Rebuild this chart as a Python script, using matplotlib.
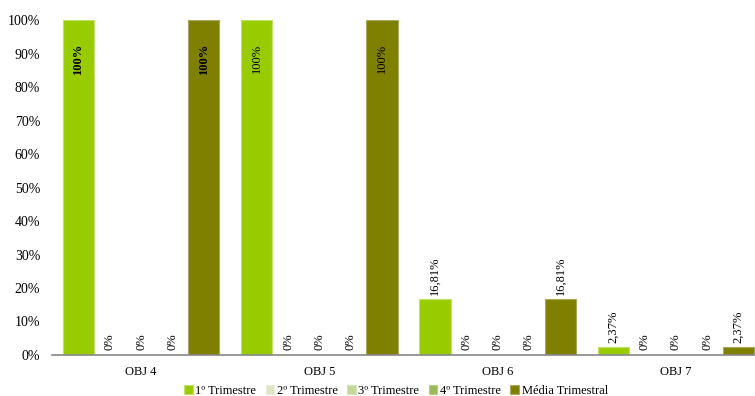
import numpy as np
import matplotlib.pyplot as plt

plt.rcParams['font.family'] = ['Liberation Serif', 'DejaVu Serif']

categories = ['OBJ 4', 'OBJ 5', 'OBJ 6', 'OBJ 7']
series_names = ['1º Trimestre', '2º Trimestre', '3º Trimestre', '4º Trimestre', 'Média Trimestral']
tri1 = [100, 100, 16.81, 2.37]
tri2 = [0, 0, 0, 0]
tri3 = [0, 0, 0, 0]
tri4 = [0, 0, 0, 0]
media = [100, 100, 16.81, 2.37]
series = [tri1, tri2, tri3, tri4, media]
colors = ['#99CC00', '#DDE6C6', '#C4D79B', '#9BBB59', '#808000']
edges = ['#C2E070', '#E8EEDA', '#D6E3BA', '#B8CF8A', '#A8A860']

fig = plt.figure(figsize=(7.55, 3.96), dpi=100)
ax = fig.add_axes([52 / 755, 1 - 355 / 396, 713 / 755, 335 / 396])

x = np.arange(len(categories))
w = 0.1756
for i, (vals, c, ec) in enumerate(zip(series, colors, edges)):
    pos = x + (i - 2) * w
    ax.bar(pos, vals, width=w, color=c, edgecolor=ec, linewidth=0.8, label=series_names[i])
    for j, (p, v) in enumerate(zip(pos, vals)):
        if v == 0:
            ax.text(p, 1.5, '0%', rotation=90, ha='center', va='bottom', fontsize=9)
        elif v >= 100:
            bold = 'bold' if j == 0 else 'normal'
            ax.text(p, v - 7, '100%', rotation=90, ha='center', va='top', fontsize=9,
                    fontweight=bold)
        else:
            txt = ('%.2f%%' % v).replace('.', ',')
            ax.text(p, v + 1.2, txt, rotation=90, ha='center', va='bottom', fontsize=9)

ax.set_xlim(-0.5, 3.5)
ax.set_ylim(0, 100)
ax.set_yticks(np.arange(0, 101, 10))
ax.set_yticklabels(['%d%%' % t for t in range(0, 101, 10)], fontsize=10)
ax.set_xticks(x)
ax.set_xticklabels(categories, fontsize=9)
ax.tick_params(axis='x', length=0, pad=8)
ax.tick_params(axis='y', length=0, pad=8.5)
for s in ['top', 'right', 'left']:
    ax.spines[s].set_visible(False)
ax.spines['bottom'].set_color('#888888')
ax.spines['bottom'].set_linewidth(1.2)

fig.legend(loc='lower center', bbox_to_anchor=(396 / 755, -0.03), ncol=5, frameon=False,
           fontsize=9, handlelength=0.7, handleheight=0.7, handletextpad=0.2,
           columnspacing=0.75)

fig.savefig('out.png', dpi=100)
